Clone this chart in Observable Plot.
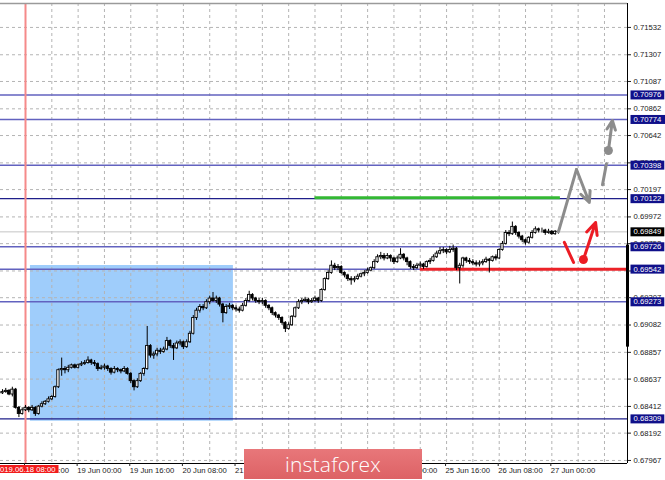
<!DOCTYPE html>
<html><head><meta charset="utf-8">
<script src="https://cdn.jsdelivr.net/npm/d3@7"></script>
<script src="https://cdn.jsdelivr.net/npm/@observablehq/plot@0.6"></script>
<style>
body{margin:0;background:#fff;}
#wrap{position:relative;width:665px;height:480px;overflow:hidden;}
#logo{position:absolute;left:244px;top:449px;width:178px;height:30px;background:linear-gradient(#e8777a,#dd6265);color:#fff;font:300 21px "Open Sans",sans-serif;display:flex;align-items:center;justify-content:center;letter-spacing:0.2px;}
</style></head><body><div id="wrap"><div id="logo">instaforex</div></div>
<script>
// ---- data (H1 candles) ----
const firstBar = -7;           // bar index of the first candle (0 = 2019.06.18 08:00)
const firstOpen = 0.6852;
const close = [
.6853,.6854,.6851,.6855,.6840,.6835,.6838,.6840,.6838,.6840,
.6835,.6841,.6843,.6845,.6847,.6849,.6857,.6871,.6872,.6871,
.6873,.6875,.6873,.6875,.6876,.6877,.6879,.6877,.6876,.6872,
.6873,.6874,.6872,.6869,.6872,.6871,.6870,.6872,.6868,.6862,
.6857,.6862,.6868,.6872,.6891,.6883,.6884,.6887,.6886,.6888,
.6895,.6891,.6889,.6893,.6894,.6890,.6894,.6901,.6914,.6920,
.6923,.6922,.6927,.6930,.6928,.6930,.6925,.6918,.6923,.6924,
.6922,.6921,.6920,.6924,.6928,.6933,.6930,.6928,.6927,.6928,
.6924,.6922,.6918,.6916,.6914,.6910,.6905,.6908,.6915,.6922,
.6927,.6928,.6929,.6927,.6928,.6930,.6928,.6937,.6946,.6951,
.6957,.6955,.6956,.6951,.6949,.6946,.6945,.6946,.6948,.6950,
.6951,.6953,.6955,.6960,.6964,.6965,.6963,.6965,.6963,.6960,
.6963,.6966,.6963,.6960,.6956,.6955,.6957,.6958,.6956,.6960,
.6961,.6964,.6967,.6969,.6970,.6968,.6970,.6971,.6955,.6957,
.6963,.6961,.6960,.6959,.6958,.6959,.6960,.6962,.6961,.6964,
.6963,.6970,.6975,.6984,.6983,.6989,.6984,.6981,.6978,.6976,
.6980,.6984,.6987,.6986,.6986,.6984,.6985,.6983,.6985,.69849];
const high = [
.6855,.6856,.6855,.6857,.6856,.6841,.6840,.6842,.6841,.6842,
.6841,.6842,.6845,.6846,.6849,.6850,.6858,.6872,.6881,.6874,
.6875,.6876,.6876,.6876,.6878,.6879,.6882,.6880,.6879,.6877,
.6875,.6876,.6875,.6873,.6874,.6873,.6872,.6874,.6873,.6869,
.6863,.6864,.6869,.6873,.6907,.6892,.6886,.6889,.6889,.6890,
.6898,.6896,.6893,.6895,.6896,.6895,.6896,.6903,.6916,.6922,
.6925,.6925,.6929,.6932,.6935,.6932,.6931,.6926,.6925,.6926,
.6925,.6924,.6923,.6926,.6930,.6936,.6934,.6931,.6930,.6930,
.6929,.6925,.6923,.6919,.6917,.6915,.6911,.6910,.6916,.6923,
.6929,.6930,.6931,.6930,.6930,.6932,.6931,.6938,.6947,.6953,
.6961,.6959,.6958,.6957,.6952,.6950,.6948,.6948,.6950,.6951,
.6953,.6955,.6956,.6962,.6966,.6968,.6967,.6967,.6966,.6964,
.6965,.6971,.6967,.6964,.6961,.6958,.6959,.6960,.6959,.6961,
.6963,.6966,.6969,.6972,.6972,.6971,.6973,.6974,.6972,.6959,
.6964,.6964,.6963,.6962,.6961,.6961,.6962,.6964,.6963,.6965,
.6966,.6971,.6977,.6986,.6986,.6993,.6990,.6985,.6982,.6979,
.6981,.6986,.6989,.6988,.6988,.6987,.6987,.6986,.6986,.6986];
const low = [
.6851,.6852,.6850,.6849,.6839,.6832,.6834,.6837,.6836,.6837,
.6833,.6834,.6840,.6842,.6844,.6846,.6848,.6856,.6866,.6868,
.6869,.6872,.6872,.6872,.6874,.6875,.6876,.6875,.6874,.6870,
.6871,.6871,.6870,.6867,.6868,.6869,.6868,.6869,.6867,.6860,
.6854,.6856,.6861,.6866,.6871,.6881,.6880,.6882,.6884,.6885,
.6887,.6889,.6879,.6888,.6891,.6888,.6889,.6893,.6900,.6912,
.6918,.6920,.6921,.6925,.6927,.6926,.6923,.6910,.6917,.6921,
.6920,.6919,.6918,.6919,.6923,.6927,.6928,.6926,.6925,.6925,
.6922,.6920,.6916,.6914,.6912,.6908,.6902,.6904,.6907,.6914,
.6921,.6925,.6927,.6925,.6926,.6927,.6926,.6927,.6936,.6945,
.6950,.6953,.6953,.6950,.6947,.6944,.6941,.6943,.6945,.6947,
.6948,.6950,.6952,.6954,.6959,.6962,.6961,.6962,.6960,.6958,
.6959,.6962,.6961,.6957,.6954,.6953,.6954,.6955,.6954,.6955,
.6958,.6960,.6963,.6966,.6967,.6966,.6967,.6968,.6953,.6942,
.6955,.6959,.6958,.6957,.6956,.6956,.6957,.6959,.6951,.6960,
.6961,.6962,.6969,.6974,.6981,.6982,.6982,.6979,.6976,.6974,
.6975,.6979,.6983,.6984,.6984,.6982,.6983,.6982,.6982,.6983];

// time axis
const timeTicks = [0,16,32,48,64,80,96,112,128,144,160];
const timeLabels = ["18 Jun 08:00","19 Jun 00:00","19 Jun 16:00","20 Jun 08:00","21 Jun 00:00","21 Jun 16:00","24 Jun 08:00","25 Jun 00:00","25 Jun 16:00","26 Jun 08:00","27 Jun 00:00"];
const gridTimes = [0,8,16,24,32,40,48,56,64,72,80,88,96,104,112,120,128,136,144,152,160,168,176];
const markerTime = [0];
const markerLabel = "2019.06.18 08:00";

// price axis
const priceTicks = [0.71532,0.71307,0.71087,0.70862,0.70642,0.70417,0.70197,0.69972,0.69752,0.69527,0.69307,0.69082,0.68857,0.68637,0.68412,0.68192,0.67967];
const levelsLight = [0.70976,0.70774,0.70398,0.69726,0.69542,0.69273];
const levelsDark = [0.70122,0.68309];
const bidPrice = [0.69849];

// annotations
const zone = [{x1:1.5, x2:63.2, y1:0.69572, y2:0.6829}];
const greenLevel = [{x1:88, x2:162.6, y:0.70130}];
const redLevel = [{x1:120, x2:183, y:0.69542}];
const grayPath = [{x:162,y:0.69849},{x:167.5,y:0.70363}];
const grayArrow1 = [{x1:167.5,y1:0.70363,x2:171.4,y2:0.70091}];
const graySeg = [{x:175.4,y:0.70236},{x:176.6,y:0.70409}];
const grayDot = [{x:177.2,y:0.70519}];
const grayArrow2 = [{x1:177.2,y1:0.70519,x2:178.4,y2:0.70766}];
const redSeg = [{x:163.8,y:0.69762},{x:166.6,y:0.69597}];
const redDot = [{x:169.6,y:0.69621}];
const redArrow = [{x1:169.6,y1:0.69621,x2:173.3,y2:0.69926}];
const scrollBar = [{y1:0.6974, y2:0.6890}];

const xDomain = [-7.6, 183];
const yDomain = [0.67942, 0.71729];

const candles = close.map((c,k)=>({i:firstBar+k, o:k?close[k-1]:firstOpen, c, h:high[k], l:low[k]}));
const fmt = d3.format(".5f");
const labelOf = new Map(timeTicks.map((t,k)=>[t,timeLabels[k]]));
const FS = 7.7;

const svg = Plot.plot({
  width:665, height:480,
  marginLeft:0, marginRight:38, marginTop:3, marginBottom:17,
  x:{domain:xDomain},
  y:{domain:yDomain},
  style:{fontFamily:"'Liberation Sans', Arial, sans-serif", fontSize:FS+"px", background:"white", color:"#111", overflow:"visible"},
  marks:[
    Plot.rect(zone,{x1:"x1",x2:"x2",y1:"y1",y2:"y2",fill:"#9fcdfb"}),
    Plot.gridX(gridTimes,{stroke:"#b4b4b4",strokeOpacity:1,strokeDasharray:"3,3"}),
    Plot.gridY(priceTicks,{stroke:"#b4b4b4",strokeOpacity:1,strokeDasharray:"3,3"}),
    Plot.ruleY(bidPrice,{stroke:"#c4c4c4",strokeWidth:1}),
    Plot.ruleY(levelsLight,{stroke:"#6262bf",strokeWidth:1.5}),
    Plot.ruleY(levelsDark,{stroke:"#1f1f8a",strokeWidth:1.2}),
    Plot.ruleX(markerTime,{stroke:"#f58a8a",strokeWidth:2}),
    Plot.ruleY(greenLevel,{x1:"x1",x2:"x2",y:"y",stroke:"#33b833",strokeWidth:3}),
    Plot.ruleY(redLevel,{x1:"x1",x2:"x2",y:"y",stroke:"#ec2228",strokeWidth:3}),
    Plot.ruleX(candles,{x:"i",y1:"l",y2:"h",stroke:"#000",strokeWidth:1}),
    Plot.rect(candles,{x1:d=>d.i-0.35,x2:d=>d.i+0.35,y1:"o",y2:"c",fill:d=>d.c>=d.o?"white":"black",stroke:"#000",strokeWidth:0.9}),
    Plot.line(grayPath,{x:"x",y:"y",stroke:"#8c8c8c",strokeWidth:3}),
    Plot.arrow(grayArrow1,{x1:"x1",y1:"y1",x2:"x2",y2:"y2",stroke:"#8c8c8c",strokeWidth:3,headLength:9,headAngle:50}),
    Plot.line(graySeg,{x:"x",y:"y",stroke:"#8c8c8c",strokeWidth:3}),
    Plot.dot(grayDot,{x:"x",y:"y",r:4.5,fill:"#8c8c8c"}),
    Plot.arrow(grayArrow2,{x1:"x1",y1:"y1",x2:"x2",y2:"y2",stroke:"#8c8c8c",strokeWidth:3,headLength:9,headAngle:50}),
    Plot.line(redSeg,{x:"x",y:"y",stroke:"#ec1c24",strokeWidth:3}),
    Plot.dot(redDot,{x:"x",y:"y",r:4.5,fill:"#ec1c24"}),
    Plot.arrow(redArrow,{x1:"x1",y1:"y1",x2:"x2",y2:"y2",stroke:"#ec1c24",strokeWidth:3,headLength:9,headAngle:50}),
    Plot.ruleX([xDomain[1]],{stroke:"#000",strokeWidth:1}),
    Plot.ruleY([yDomain[0]],{stroke:"#000",strokeWidth:1}),
    Plot.ruleY([yDomain[1]],{stroke:"#9a9a9a",strokeWidth:1.5}),
    Plot.ruleX(scrollBar,{x:xDomain[1],y1:"y1",y2:"y2",stroke:"#000",strokeWidth:3}),
    Plot.axisY(priceTicks,{anchor:"right",tickFormat:fmt,tickSize:3,tickPadding:3,stroke:"#222",fill:"#1a1a1a",fontSize:FS}),
    Plot.axisX(timeTicks,{anchor:"bottom",tickFormat:d=>labelOf.get(d),tickSize:3,tickPadding:1,textAnchor:"start",dx:-1,stroke:"#222",fill:"#1a1a1a",fontSize:FS}),
    Plot.text(levelsLight.concat(levelsDark),{y:d=>d,frameAnchor:"right",dx:6,textAnchor:"start",text:d=>fmt(d),fill:"white",fontSize:FS}),
    Plot.text(bidPrice,{y:d=>d,frameAnchor:"right",dx:6,textAnchor:"start",text:d=>fmt(d),fill:"white",fontSize:FS}),
    Plot.text(markerTime,{x:d=>d,frameAnchor:"bottom",dy:8,dx:30,textAnchor:"end",text:()=>markerLabel,fill:"white",fontSize:FS})
  ]
});
const wrap = document.getElementById("wrap");
wrap.insertBefore(svg, wrap.firstChild);

function boxify(strings, fill, padL, padR, padY){
  const set = new Set(strings);
  d3.select(svg).selectAll("text").filter(function(){ return set.has(this.textContent); }).each(function(){
    const b = this.getBBox();
    const r = document.createElementNS("http://www.w3.org/2000/svg","rect");
    r.setAttribute("x", b.x - padL);
    r.setAttribute("y", b.y - padY);
    r.setAttribute("width", b.width + padL + padR);
    r.setAttribute("height", b.height + 2*padY);
    if (this.getAttribute("transform")) r.setAttribute("transform", this.getAttribute("transform"));
    r.setAttribute("fill", fill);
    r.setAttribute("stroke", "none");
    this.parentNode.insertBefore(r, this);
  });
}
boxify(levelsLight.concat(levelsDark).map(fmt),"#10108a",3,3,0);
boxify(bidPrice.map(fmt),"#000",3,3,0);
boxify([markerLabel],"#f21b1b",40,3,-0.5);
</script>
</body></html>
